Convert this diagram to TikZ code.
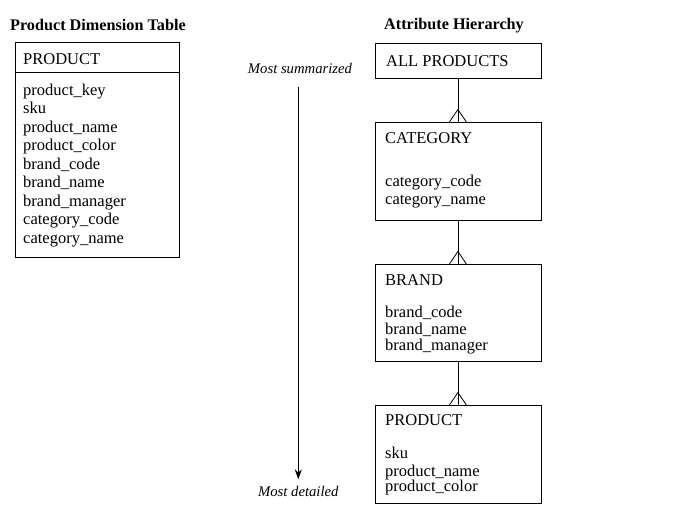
\documentclass[tikz,border=0pt]{standalone}
\usepackage{fontspec}
\setmainfont{Liberation Serif}
\usetikzlibrary{arrows.meta}
\begin{document}
\begin{tikzpicture}[x=1pt,y=-1pt,
  box/.style={draw, line width=0.8pt, rectangle, inner sep=0pt, anchor=north west},
  txt/.style={anchor=base west, inner sep=0pt, font=\fontsize{16.5}{18}\selectfont},
  ttl/.style={anchor=base west, inner sep=0pt, font=\fontsize{16.2}{18}\selectfont\bfseries},
  lbl/.style={anchor=base, inner sep=0pt, font=\fontsize{14.7}{18}\selectfont\itshape},
  link/.style={line width=0.8pt},
  crow/.style={line width=0.8pt}]
\useasboundingbox (0,0) rectangle (681,507);

% titles
\node[ttl] (t1) at (10,30) {Product Dimension Table};
\node[ttl] (t2) at (384,29.3) {Attribute Hierarchy};

% left table
\node[box, minimum width=164pt, minimum height=215pt] (dim) at (15,42) {};
\draw[link] (dim.north west) ++(0,30) coordinate (hl) -- (hl -| dim.east);
\node[txt] (dh) at (23,64) {PRODUCT};
\foreach \t [count=\i from 0] in {product\_key, sku, product\_name, product\_color, brand\_code, brand\_name, brand\_manager, category\_code, category\_name}
  \node[txt] (d\i) at (23,95+18.5*\i) {\t};

% hierarchy boxes
\node[box, minimum width=166pt, minimum height=35pt] (all) at (375,43) {};
\node[txt] (allt) at (386,66) {ALL PRODUCTS};

\node[box, minimum width=166pt, minimum height=98pt] (cat) at (375,122) {};
\node[txt] (catt) at (385,143.3) {CATEGORY};
\node[txt] (cat1) at (385,186.7) {category\_code};
\node[txt] (cat2) at (385,204) {category\_name};

\node[box, minimum width=166pt, minimum height=97pt] (brand) at (375,264) {};
\node[txt] (brt) at (385,285) {BRAND};
\node[txt] (br1) at (385,317.7) {brand\_code};
\node[txt] (br2) at (385,334) {brand\_name};
\node[txt] (br3) at (385,350) {brand\_manager};

\node[box, minimum width=166pt, minimum height=97.7pt] (prod) at (375,405) {};
\node[txt] (prt) at (385,425) {PRODUCT};
\node[txt] (pr1) at (385,458.3) {sku};
\node[txt] (pr2) at (385,476.7) {product\_name};
\node[txt] (pr3) at (385,491.7) {product\_color};

% connectors with crow's feet
\foreach \a/\b in {all/cat, cat/brand, brand/prod} {
  \draw[link] ([xshift=-0.5pt]\a.south) -- ([xshift=-0.5pt]\b.north);
  \draw[crow] ([xshift=-9pt]\b.north) -- ([xshift=-0.5pt,yshift=12.5pt]\b.north) -- ([xshift=8pt]\b.north);
}

% arrow
\node[lbl] (ms) at (300,73.3) {Most summarized};
\node[lbl] (md) at (298.3,496.7) {Most detailed};
\coordinate (a0) at (298.3,86.7);
\coordinate (a1) at (298.3,479.3);
\draw[link, -{Stealth[length=10pt,width=7pt]}] (a0) -- (a1);
\end{tikzpicture}
\end{document}
